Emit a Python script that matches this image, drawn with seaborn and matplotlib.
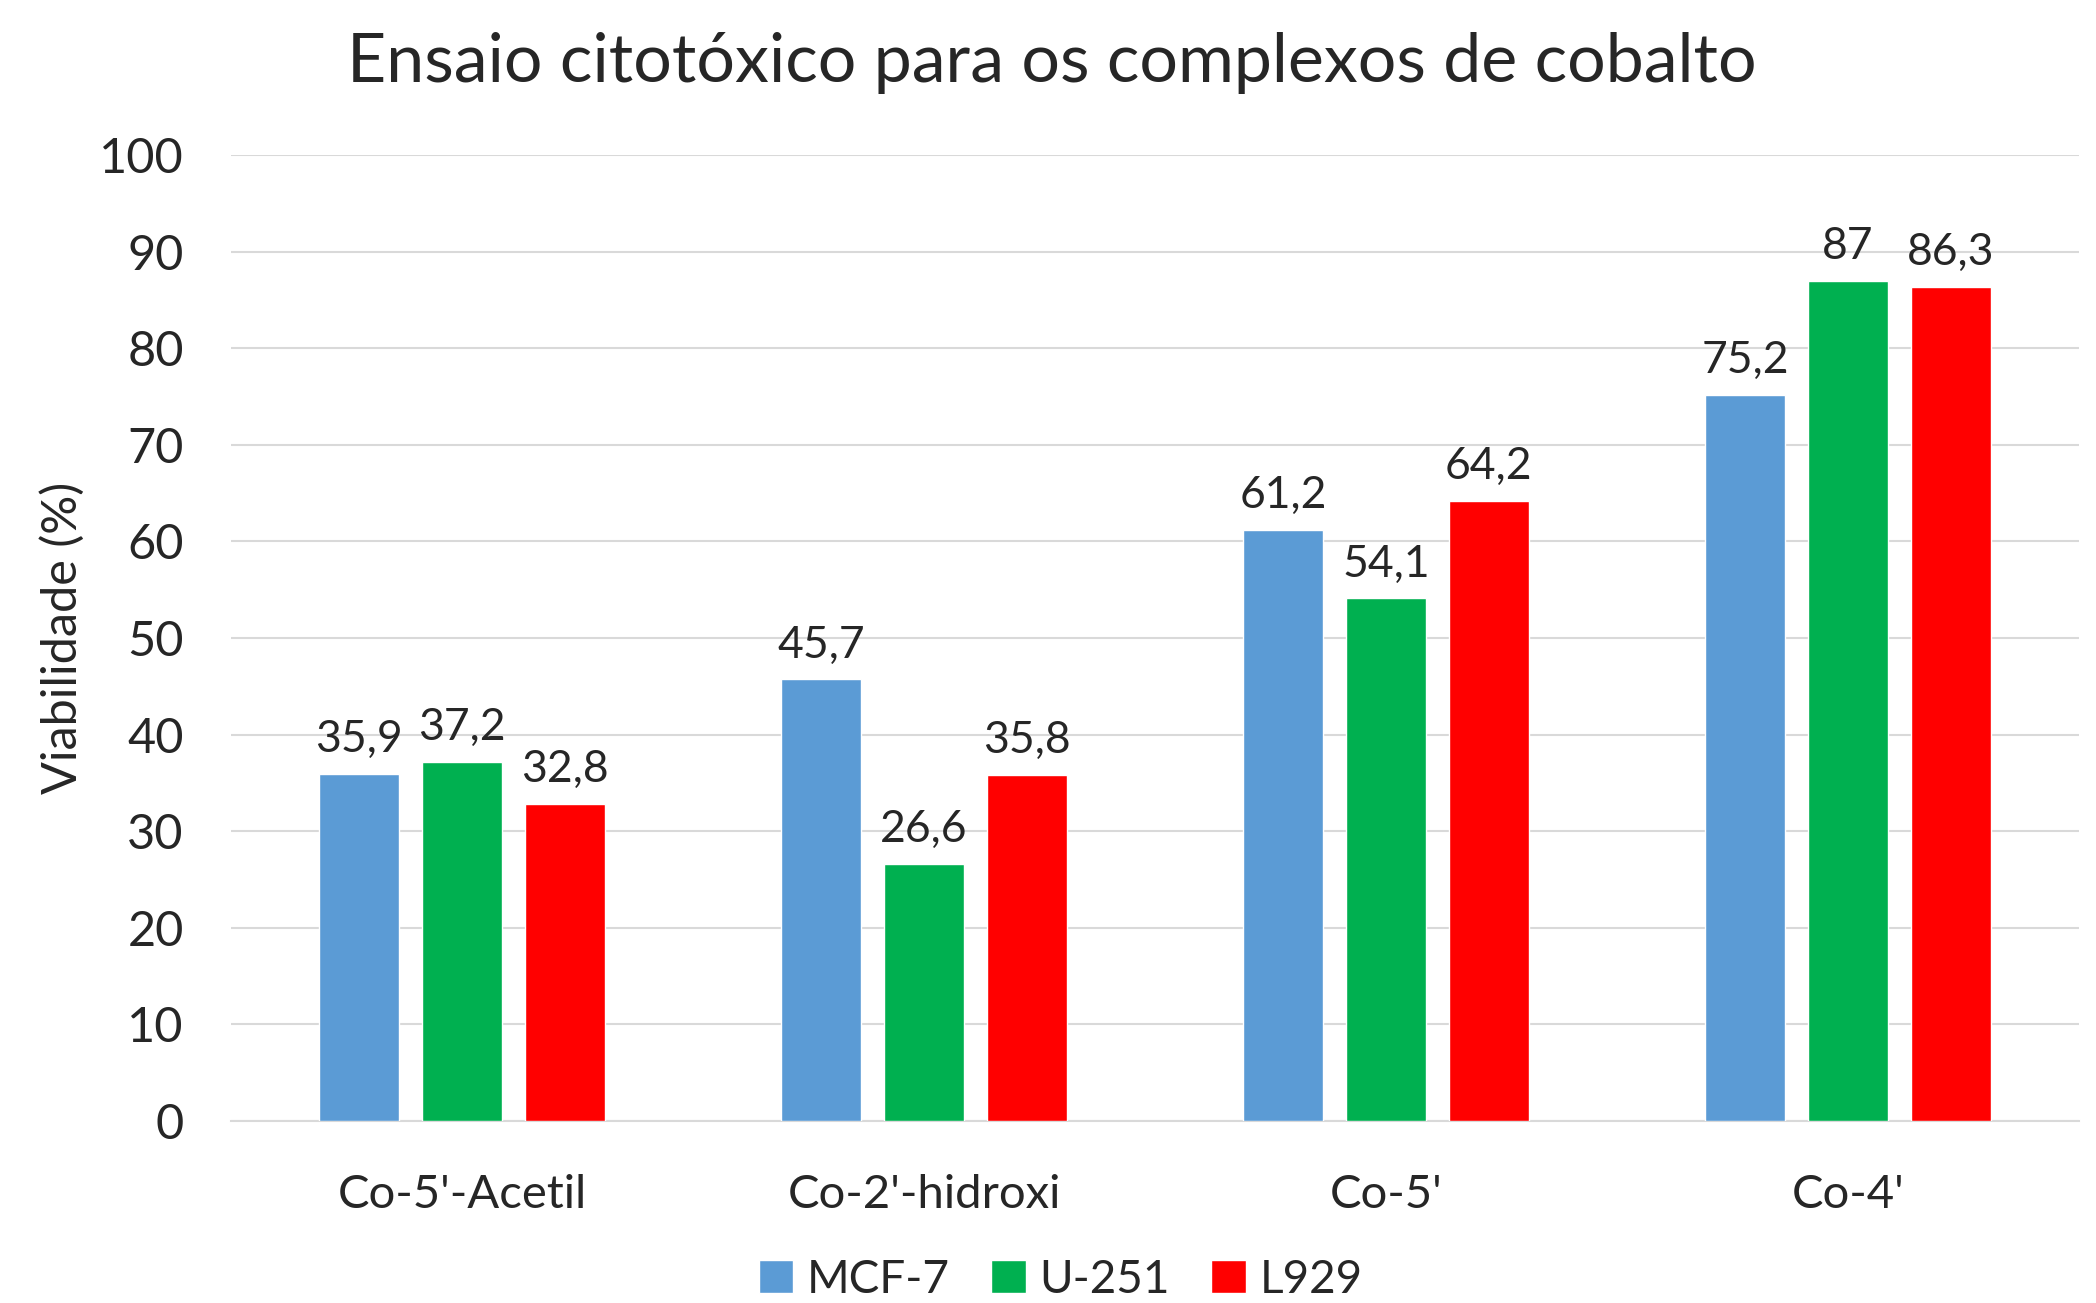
import matplotlib
matplotlib.use("Agg")
import matplotlib.pyplot as plt
import seaborn as sns
import pandas as pd

categories = ["Co-5'-Acetil", "Co-2'-hidroxi", "Co-5'", "Co-4'"]
series_names = ["MCF-7", "U-251", "L929"]
mcf7 = [35.9, 45.7, 61.2, 75.2]
u251 = [37.2, 26.6, 54.1, 87.0]
l929 = [32.8, 35.8, 64.2, 86.3]
colors = ["#5B9BD5", "#00B050", "#FF0000"]
yticks = [0, 10, 20, 30, 40, 50, 60, 70, 80, 90, 100]

rows = []
for name, vals in zip(series_names, [mcf7, u251, l929]):
    for c, v in zip(categories, vals):
        rows.append({"Composto": c, "Linhagem": name, "Viabilidade": v})
df = pd.DataFrame(rows)

sns.set_theme(style="white")
plt.rcParams["font.family"] = ["Lato", "DejaVu Sans"]

fig = plt.figure(figsize=(20.96, 13.03), dpi=100)
ax = fig.add_axes([0.1102, 0.1397, 0.8817, 0.7414])

sns.barplot(data=df, x="Composto", y="Viabilidade", hue="Linhagem",
            order=categories, hue_order=series_names, palette=colors,
            width=0.667, gap=0.22, ax=ax, saturation=1, legend=True,
            errorbar=None, zorder=3)

ax.set_ylim(0, 100)
ax.set_xlim(-0.5, 3.5)
ax.set_yticks(yticks)
ax.set_yticklabels([str(t) for t in yticks], fontsize=35)
ax.tick_params(axis="y", length=0, pad=34)
ax.tick_params(axis="x", length=0, pad=38, labelsize=34)
ax.yaxis.grid(True, color="#D9D9D9", linewidth=1.5, zorder=0)
ax.set_axisbelow(True)
for s in ["top", "right", "left"]:
    ax.spines[s].set_visible(False)
ax.spines["bottom"].set_color("#D9D9D9")
ax.spines["bottom"].set_linewidth(1.5)

ax.set_xlabel("")
ax.set_ylabel("Viabilidade (%)", fontsize=35)
ax.yaxis.set_label_coords(-0.079, 0.5)

for cont in ax.containers:
    labels = [f"{b.get_height():g}".replace(".", ",") for b in cont]
    ax.bar_label(cont, labels=labels, padding=10, fontsize=32)

fig.text(0.502, 0.952, "Ensaio citotóxico para os complexos de cobalto",
         ha="center", va="center", fontsize=49)

leg = ax.get_legend()
handles, lbls = ax.get_legend_handles_labels()
leg.remove()
fig.legend(handles, lbls, loc="center", bbox_to_anchor=(0.506, 0.018),
           ncol=3, frameon=False, fontsize=33, handlelength=0.75,
           handleheight=0.75, handletextpad=0.3, columnspacing=0.9)

fig.savefig("out.png", dpi=100)
